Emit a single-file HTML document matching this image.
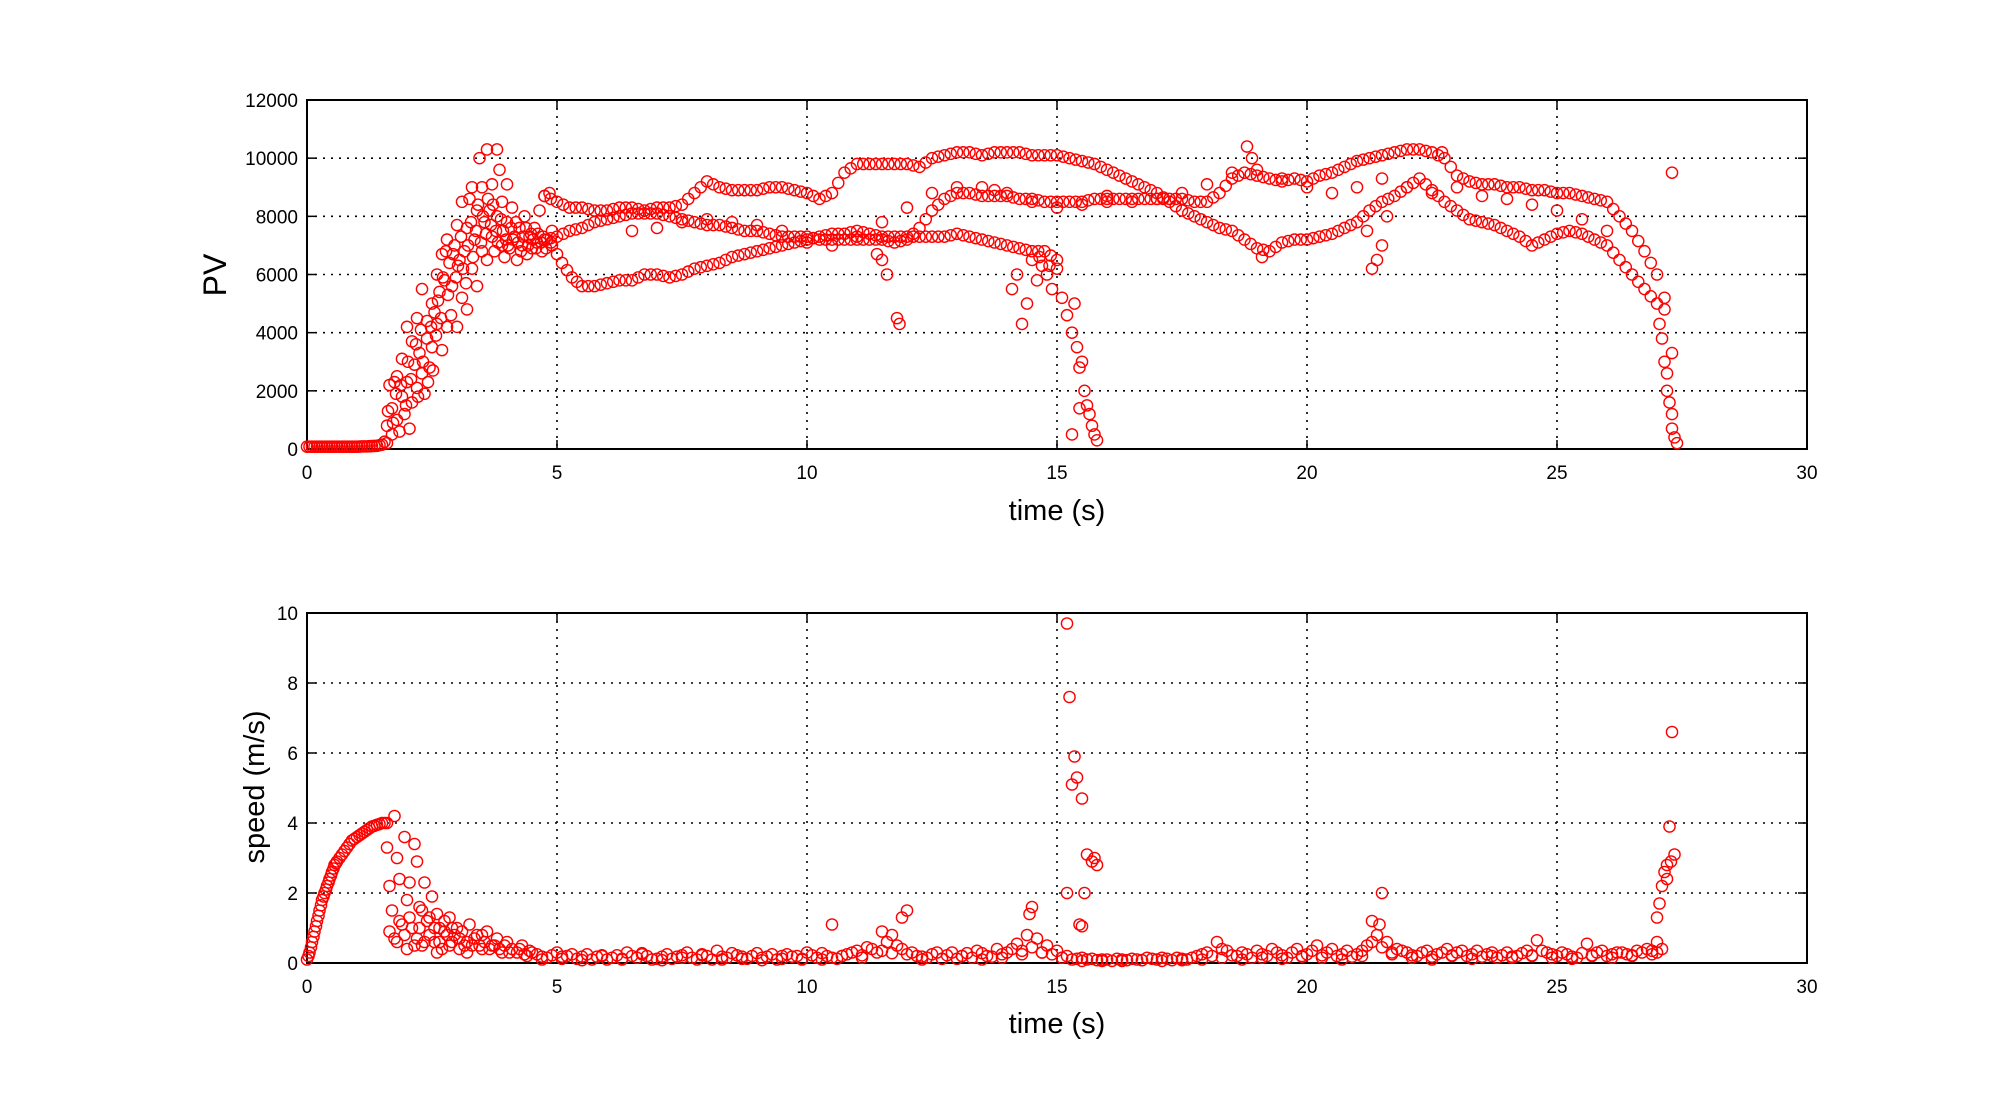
<!DOCTYPE html>
<html><head><meta charset="utf-8"><style>
html,body{margin:0;padding:0;background:#fff;}
svg{display:block;font-family:"Liberation Sans",sans-serif;}
</style></head><body>
<svg id="fig" width="1998" height="1117" viewBox="0 0 1998 1117">
<rect width="1998" height="1117" fill="#fff"/>
<g id="top"></g>
<g id="bot"></g>
<text x="1057" y="520" font-size="29" text-anchor="middle">time (s)</text>
<text x="1057" y="1033" font-size="29" text-anchor="middle">time (s)</text>
<text transform="translate(226,275) rotate(-90)" font-size="32" text-anchor="middle">PV</text>
<text transform="translate(264,787) rotate(-90)" font-size="29" text-anchor="middle">speed (m/s)</text>
</svg>
<script>
const xTicks=[0,5,10,15,20,25,30];
const pvTicks=[0,2000,4000,6000,8000,10000,12000];
const spTicks=[0,2,4,6,8,10];
const pvFlat=[[0,80],[0.05,80],[0.1,80],[0.15,80],[0.2,80],[0.25,80],[0.3,80],[0.35,80],[0.4,80],[0.45,80],[0.5,80],[0.55,80],[0.6,80],[0.65,80],[0.7,80],[0.75,80],[0.8,80],[0.85,80],[0.9,80],[0.95,80],[1.0,80],[1.05,85],[1.1,90],[1.15,90],[1.2,90],[1.25,95],[1.3,100],[1.35,105],[1.4,110],[1.45,130],[1.5,150],[1.55,250]];
const pvRise=[[1.6,200],[1.6,800],[1.65,2200],[1.7,1400],[1.7,500],[1.75,2300],[1.8,1000],[1.8,2500],[1.85,600],[1.9,1800],[1.9,3100],[1.95,1200],[2.0,2300],[2.0,4200],[2.05,700],[2.1,3700],[2.1,1600],[2.15,2900],[2.2,4500],[2.2,2100],[2.25,3300],[2.3,5500],[2.3,2600],[2.35,1900],[2.4,3800],[2.4,4400],[2.45,2800],[2.5,5000],[2.5,3500],[2.55,4700],[2.6,6000],[2.6,4300],[2.65,5400],[2.7,3400],[2.7,6700],[2.75,5800],[2.8,7200],[2.8,4200],[2.85,6400],[2.9,5600],[2.95,7000],[3.0,4200],[3.0,7700],[3.05,6500],[3.1,8500],[3.1,5200],[3.15,6800],[3.2,7600],[3.2,4800],[3.25,8600],[3.3,6200],[3.3,9000],[3.35,7200],[3.4,5600],[3.4,8200],[3.45,10000],[3.5,6800],[3.5,9000],[3.55,7800],[3.6,10300],[3.6,6500],[3.65,8200],[3.7,9100],[3.7,7300],[3.75,6800],[3.8,10300],[3.8,8000],[3.85,9600],[3.9,7000],[3.9,8500],[3.95,6600],[4.0,7800],[4.0,9100],[4.05,6900],[4.1,8300],[4.15,7300],[4.2,6500],[4.25,7600],[4.3,7000],[4.35,8000],[4.4,6700],[4.45,7300],[4.5,6900],[4.55,7600],[4.6,7100],[4.65,8200],[4.7,6800],[4.75,8700],[4.8,7200],[4.85,8800],[4.9,7500]];
const pvRise2=[[1.62,1300],[1.72,900],[1.78,1900],[1.88,2200],[1.98,1500],[2.02,3000],[2.08,2400],[2.18,3600],[2.22,1800],[2.28,4100],[2.32,3000],[2.42,2300],[2.48,4200],[2.52,2700],[2.58,3900],[2.62,5100],[2.68,4500],[2.72,5900],[2.78,6800],[2.82,5300],[2.88,4600],[2.92,6700],[2.98,5900],[3.02,6300],[3.08,7300],[3.12,6200],[3.18,5700],[3.22,7000],[3.28,7800],[3.32,6600],[3.38,7500],[3.42,8400],[3.48,7100],[3.52,8000],[3.58,7400],[3.62,8600],[3.68,7700],[3.72,8400],[3.78,7500],[3.82,7100],[3.88,7900],[3.92,7500],[3.98,7200],[4.02,7000],[4.08,7600],[4.12,7200],[4.18,7800],[4.22,7100],[4.28,6800],[4.32,7300],[4.38,7600],[4.42,7000],[4.48,7400],[4.52,7200],[4.58,6900],[4.62,7400],[4.68,7100],[4.72,7300],[4.78,6900],[4.88,7100]];
const pvTrackA=[[4.9,7000],[5.1,6400],[5.3,5900],[5.5,5600],[5.75,5600],[6,5700],[6.25,5800],[6.5,5800],[6.75,6000],[7,6000],[7.25,5900],[7.5,6000],[7.75,6200],[8,6300],[8.25,6400],[8.5,6600],[8.75,6700],[9,6800],[9.25,6900],[9.5,7000],[9.75,7100],[10,7200],[10.25,7300],[10.5,7400],[10.75,7400],[11,7500],[11.25,7400],[11.5,7300],[11.75,7300],[12,7300],[12.25,7300],[12.5,7300],[12.75,7300],[13,7400],[13.25,7300],[13.5,7200],[13.75,7100],[14,7000],[14.25,6900],[14.5,6800],[14.75,6800],[15,6500]];
const pvTrackA2=[[5.0,6700],[5.2,6150],[5.4,5750],[5.625,5600],[5.875,5650],[6.125,5750],[6.375,5800],[6.625,5900],[6.875,6000],[7.125,5950],[7.375,5950],[7.625,6100],[7.875,6250],[8.125,6350],[8.375,6500],[8.625,6650],[8.875,6750],[9.125,6850],[9.375,6950],[9.625,7050],[9.875,7150],[10.125,7250],[10.375,7350],[10.625,7400],[10.875,7450],[11.125,7450],[11.375,7350],[11.625,7300],[11.875,7300],[12.125,7300],[12.375,7300],[12.625,7300],[12.875,7350],[13.125,7350],[13.375,7250],[13.625,7150],[13.875,7050],[14.125,6950],[14.375,6850],[14.625,6800],[14.875,6650]];
const pvDropA=[[14.6,5800],[14.7,6300],[14.8,6000],[14.9,5500],[15.0,6200],[15.1,5200],[15.2,4600],[15.3,4000],[15.35,5000],[15.4,3500],[15.45,2800],[15.5,3000],[15.55,2000],[15.6,1500],[15.65,1200],[15.7,800],[15.75,500],[15.8,300],[15.3,500],[15.45,1400],[14.1,5500],[14.3,4300],[14.4,5000],[14.2,6000],[14.5,6500],[14.65,6600],[14.85,6300]];
const pvTrackB=[[4.75,8700],[5,8500],[5.25,8300],[5.5,8300],[5.75,8200],[6,8200],[6.25,8300],[6.5,8300],[6.75,8200],[7,8300],[7.25,8300],[7.5,8400],[7.75,8800],[8,9200],[8.25,9000],[8.5,8900],[8.75,8900],[9,8900],[9.25,9000],[9.5,9000],[9.75,8900],[10,8800],[10.25,8600],[10.5,8800],[10.75,9500],[11,9800],[11.25,9800],[11.5,9800],[11.75,9800],[12,9800],[12.25,9700],[12.5,10000],[12.75,10100],[13,10200],[13.25,10200],[13.5,10100],[13.75,10200],[14,10200],[14.25,10200],[14.5,10100],[14.75,10100],[15,10100],[15.25,10000],[15.5,9900],[15.75,9800],[16,9600],[16.25,9400],[16.5,9200],[16.75,9000],[17,8800],[17.25,8500],[17.5,8200],[17.75,8000],[18,7800],[18.25,7600],[18.5,7500],[18.75,7200],[19,6900],[19.25,6800],[19.5,7100],[19.75,7200],[20,7200],[20.25,7300],[20.5,7400],[20.75,7600],[21,7800],[21.25,8200],[21.5,8500],[21.75,8700],[22,9000],[22.25,9300],[22.5,8900],[22.75,8500],[23,8200],[23.25,7900],[23.5,7800],[23.75,7700],[24,7500],[24.25,7300],[24.5,7000],[24.75,7200],[25,7400],[25.25,7500],[25.5,7400],[25.75,7200],[26,7000],[26.25,6500],[26.5,6000],[26.75,5500],[27,5000],[27.15,4800]];
const pvTrackB2=[[4.875,8600],[5.125,8400],[5.375,8300],[5.625,8250],[5.875,8200],[6.125,8250],[6.375,8300],[6.625,8250],[6.875,8250],[7.125,8300],[7.375,8350],[7.625,8600],[7.875,9000],[8.125,9100],[8.375,8950],[8.625,8900],[8.875,8900],[9.125,8950],[9.375,9000],[9.625,8950],[9.875,8850],[10.125,8700],[10.375,8700],[10.625,9150],[10.875,9650],[11.125,9800],[11.375,9800],[11.625,9800],[11.875,9800],[12.125,9750],[12.375,9850],[12.625,10050],[12.875,10150],[13.125,10200],[13.375,10150],[13.625,10150],[13.875,10200],[14.125,10200],[14.375,10150],[14.625,10100],[14.875,10100],[15.125,10050],[15.375,9950],[15.625,9850],[15.875,9700],[16.125,9500],[16.375,9300],[16.625,9100],[16.875,8900],[17.125,8650],[17.375,8350],[17.625,8100],[17.875,7900],[18.125,7700],[18.375,7550],[18.625,7350],[18.875,7050],[19.125,6850],[19.375,6950],[19.625,7150],[19.875,7200],[20.125,7250],[20.375,7350],[20.625,7500],[20.875,7700],[21.125,8000],[21.375,8350],[21.625,8600],[21.875,8850],[22.125,9150],[22.375,9100],[22.625,8700],[22.875,8350],[23.125,8050],[23.375,7850],[23.625,7750],[23.875,7600],[24.125,7400],[24.375,7150],[24.625,7100],[24.875,7300],[25.125,7450],[25.375,7450],[25.625,7300],[25.875,7100],[26.125,6750],[26.375,6250],[26.625,5750],[26.875,5250]];
const pvTrackC=[[4.75,7200],[5,7300],[5.25,7500],[5.5,7600],[5.75,7800],[6,7900],[6.25,8000],[6.5,8100],[6.75,8100],[7,8100],[7.25,8000],[7.5,7900],[7.75,7800],[8,7700],[8.25,7700],[8.5,7600],[8.75,7500],[9,7500],[9.25,7400],[9.5,7300],[9.75,7300],[10,7300],[10.25,7200],[10.5,7200],[10.75,7200],[11,7200],[11.25,7200],[11.5,7200],[11.75,7100],[12,7200],[12.25,7600],[12.5,8200],[12.75,8600],[13,8800],[13.25,8800],[13.5,8700],[13.75,8700],[14,8700],[14.25,8600],[14.5,8600],[14.75,8500],[15,8500],[15.25,8500],[15.5,8500],[15.75,8600],[16,8600],[16.25,8600],[16.5,8600],[16.75,8600],[17,8600],[17.25,8600],[17.5,8600],[17.75,8500],[18,8500],[18.25,8800],[18.5,9300],[18.75,9500],[19,9400],[19.25,9300],[19.5,9200],[19.75,9300],[20,9200],[20.25,9400],[20.5,9500],[20.75,9700],[21,9900],[21.25,10000],[21.5,10100],[21.75,10200],[22,10300],[22.25,10300],[22.5,10200],[22.75,10000],[23,9400],[23.25,9200],[23.5,9100],[23.75,9100],[24,9000],[24.25,9000],[24.5,8900],[24.75,8900],[25,8800],[25.25,8800],[25.5,8700],[25.75,8600],[26,8500],[26.25,8000],[26.5,7500],[26.75,6800],[27,6000],[27.15,5200]];
const pvTrackC2=[[4.875,7250],[5.125,7400],[5.375,7550],[5.625,7700],[5.875,7850],[6.125,7950],[6.375,8050],[6.625,8100],[6.875,8100],[7.125,8050],[7.375,7950],[7.625,7850],[7.875,7750],[8.125,7700],[8.375,7650],[8.625,7550],[8.875,7500],[9.125,7450],[9.375,7350],[9.625,7300],[9.875,7300],[10.125,7250],[10.375,7200],[10.625,7200],[10.875,7200],[11.125,7200],[11.375,7200],[11.625,7150],[11.875,7150],[12.125,7400],[12.375,7900],[12.625,8400],[12.875,8700],[13.125,8800],[13.375,8750],[13.625,8700],[13.875,8700],[14.125,8650],[14.375,8600],[14.625,8550],[14.875,8500],[15.125,8500],[15.375,8500],[15.625,8550],[15.875,8600],[16.125,8600],[16.375,8600],[16.625,8600],[16.875,8600],[17.125,8600],[17.375,8600],[17.625,8550],[17.875,8500],[18.125,8650],[18.375,9050],[18.625,9400],[18.875,9450],[19.125,9350],[19.375,9250],[19.625,9250],[19.875,9250],[20.125,9300],[20.375,9450],[20.625,9600],[20.875,9800],[21.125,9950],[21.375,10050],[21.625,10150],[21.875,10250],[22.125,10300],[22.375,10250],[22.625,10100],[22.875,9700],[23.125,9300],[23.375,9150],[23.625,9100],[23.875,9050],[24.125,9000],[24.375,8950],[24.625,8900],[24.875,8850],[25.125,8800],[25.375,8750],[25.625,8650],[25.875,8550],[26.125,8250],[26.375,7750],[26.625,7150],[26.875,6400]];
const pvTrackD=[[6.5,7500],[7,7600],[7.5,7800],[8,7900],[8.5,7800],[9,7700],[9.5,7500],[10,7100],[10.5,7000],[11,7300],[11.5,7800],[12,8300],[12.5,8800],[13,9000],[13.5,9000],[13.75,8900],[14,8800],[14.5,8500],[15,8300],[15.5,8400],[16,8500],[16.5,8500],[17,8600],[17.5,8800],[18,9100],[18.5,9500],[19,9600],[19.5,9300],[20,9000],[20.5,8800],[21,9000],[21.5,9300],[22,9000],[22.5,8800],[23,9000],[23.5,8700],[24,8600],[24.5,8400],[25,8200],[25.5,7900],[26,7500]];
const pvEnd=[[27.05,4300],[27.1,3800],[27.15,3000],[27.2,2600],[27.2,2000],[27.25,1600],[27.3,1200],[27.3,700],[27.35,400],[27.4,200],[27.3,3300],[27.3,9500]];
const pvExtra=[[11.5,6500],[11.6,6000],[11.8,4500],[11.85,4300],[11.4,6700],[21.3,6200],[21.4,6500],[21.5,7000],[21.6,8000],[21.2,7500],[18.8,10400],[18.9,10000],[19.1,6600],[22.7,10200],[16,8700]];
const spAccel=[[0,0.1],[0.03,0.2],[0.05,0.3],[0.08,0.45],[0.1,0.6],[0.13,0.75],[0.15,0.9],[0.18,1.05],[0.2,1.2],[0.23,1.35],[0.25,1.5],[0.28,1.65],[0.3,1.8],[0.33,1.9],[0.35,2.0],[0.38,2.1],[0.4,2.2],[0.43,2.3],[0.45,2.4],[0.48,2.5],[0.5,2.6],[0.53,2.7],[0.55,2.8],[0.58,2.85],[0.6,2.9],[0.65,3.0],[0.7,3.1],[0.75,3.2],[0.8,3.3],[0.85,3.4],[0.9,3.5],[0.95,3.55],[1.0,3.6],[1.05,3.65],[1.1,3.7],[1.15,3.75],[1.2,3.8],[1.25,3.85],[1.3,3.9],[1.35,3.92],[1.4,3.95],[1.45,3.97],[1.5,4.0],[1.55,4.0],[1.6,4.0]];
const spDecay=[[1.6,3.3],[1.65,2.2],[1.65,0.9],[1.7,1.5],[1.75,4.2],[1.8,3.0],[1.8,0.6],[1.85,2.4],[1.9,1.1],[1.95,3.6],[2.0,1.8],[2.0,0.4],[2.05,2.3],[2.1,1.0],[2.15,3.4],[2.2,0.7],[2.2,2.9],[2.25,1.6],[2.3,0.5],[2.35,2.3],[2.4,1.2],[2.45,0.8],[2.5,1.9],[2.55,0.6],[2.6,1.4],[2.65,1.0],[2.7,0.4],[2.75,1.2],[2.8,0.8],[2.85,1.3],[2.9,0.6],[3.0,1.0],[3.05,0.4],[3.1,0.9],[3.2,0.6],[3.25,1.1],[3.3,0.5],[3.4,0.8],[3.5,0.4],[3.6,0.9],[3.7,0.5],[3.8,0.7],[3.9,0.3],[4.0,0.6],[4.1,0.4],[4.2,0.3],[4.3,0.5],[4.4,0.2],[4.5,0.3],[2.3,1.5],[2.6,0.3],[2.9,1.0],[3.2,0.3],[3.5,0.8],[1.75,0.7],[1.85,1.2],[1.95,0.8],[2.05,1.3],[2.15,0.5],[2.25,1.0],[2.35,0.6],[2.45,1.3],[2.55,1.0],[2.65,0.6],[2.75,0.9],[2.85,0.5],[2.95,0.8],[3.05,0.7],[3.15,0.5],[3.35,0.7],[3.45,0.5],[3.55,0.6],[3.65,0.4],[3.75,0.5],[3.85,0.4],[3.95,0.5],[4.05,0.3],[4.25,0.4],[4.35,0.25],[4.45,0.35]];
const spBase=[[4.6,.25],[4.8,.15],[5.0,.3],[5.2,.2],[5.4,.12],[5.6,.25],[5.8,.18],[6.0,.1],[6.2,.22],[6.4,.3],[6.6,.15],[6.8,.2],[7.0,.12],[7.2,.25],[7.4,.18],[7.6,.3],[7.8,.1],[8.0,.2],[8.2,.35],[8.4,.15],[8.6,.22],[8.8,.12],[9.0,.28],[9.2,.18],[9.4,.1],[9.6,.25],[9.8,.2],[10.0,.3],[10.2,.15],[10.4,.2],[10.6,.12],[10.8,.25],[11.0,.35],[11.2,.45],[11.4,.3],[11.6,.6],[11.8,.5],[12.0,.25],[12.2,.2],[12.4,.15],[12.6,.3],[12.8,.22],[13.0,.12],[13.2,.28],[13.4,.35],[13.6,.2],[13.8,.4],[14.0,.3],[14.2,.55],[14.4,.8],[14.6,.7],[14.8,.5],[15.0,.35],[15.2,.2],[15.4,.12],[15.6,.1],[15.8,.08],[16.0,.1],[16.2,.12],[16.4,.08],[16.6,.1],[16.8,.15],[17.0,.1],[17.2,.12],[17.4,.15],[17.6,.1],[17.8,.2],[18.0,.3],[18.2,.6],[18.4,.35],[18.6,.2],[18.8,.25],[19.0,.35],[19.2,.2],[19.4,.3],[19.6,.15],[19.8,.4],[20.0,.25],[20.2,.5],[20.4,.3],[20.6,.2],[20.8,.35],[21.0,.25],[21.2,.5],[21.4,.8],[21.6,.6],[21.8,.4],[22.0,.3],[22.2,.2],[22.4,.35],[22.6,.25],[22.8,.4],[23.0,.3],[23.2,.2],[23.4,.35],[23.6,.25],[23.8,.15],[24.0,.3],[24.2,.2],[24.4,.35],[24.6,.65],[24.8,.3],[25.0,.2],[25.2,.25],[25.4,.15],[25.6,.55],[25.8,.3],[26.0,.2],[26.2,.3],[26.4,.25],[26.6,.35],[26.8,.4],[27.0,.3]];
const spBase2=[[4.7,.1],[5.1,.18],[5.5,.08],[5.9,.2],[6.3,.1],[6.7,.25],[7.1,.08],[7.5,.15],[7.9,.22],[8.3,.1],[8.7,.18],[9.1,.08],[9.5,.2],[9.9,.12],[10.3,.1],[10.5,1.1],[10.7,.2],[11.1,.15],[11.5,.9],[11.7,.8],[11.9,1.3],[12.0,1.5],[12.3,.1],[12.7,.12],[13.1,.2],[13.5,.1],[13.9,.15],[14.3,.25],[14.5,1.6],[14.45,1.4],[14.7,.3],[15.1,.15],[15.5,.06],[15.9,.06],[16.3,.06],[16.7,.08],[17.1,.06],[17.5,.08],[17.9,.1],[18.3,.15],[18.7,.1],[19.1,.15],[19.5,.12],[19.9,.2],[20.3,.15],[20.7,.1],[21.1,.2],[21.3,1.2],[21.45,1.1],[21.7,.3],[22.1,.15],[22.5,.1],[22.9,.2],[23.3,.12],[23.7,.2],[24.1,.15],[24.5,.2],[24.9,.15],[25.3,.12],[25.7,.2],[26.1,.15],[26.5,.2],[26.9,.25]];
const spBase3=[[4.7,.18],[4.9,.22],[5.1,.12],[5.3,.25],[5.5,.18],[5.7,.1],[5.9,.22],[6.1,.15],[6.3,.12],[6.5,.2],[6.7,.28],[6.9,.1],[7.1,.18],[7.3,.12],[7.5,.22],[7.7,.15],[7.9,.25],[8.1,.1],[8.3,.18],[8.5,.28],[8.7,.12],[8.9,.2],[9.1,.15],[9.3,.25],[9.5,.12],[9.7,.18],[9.9,.1],[10.1,.22],[10.3,.28],[10.5,.15],[10.7,.2],[10.9,.3],[11.1,.22],[11.3,.4],[11.5,.35],[11.7,.28],[11.9,.4],[12.1,.3],[12.3,.18],[12.5,.25],[12.7,.12],[12.9,.3],[13.1,.2],[13.3,.15],[13.5,.28],[13.7,.18],[13.9,.25],[14.1,.4],[14.3,.35],[14.5,.45],[14.7,.3],[14.9,.25],[15.1,.15],[15.3,.1],[15.5,.15],[15.7,.12],[15.9,.1],[16.1,.06],[16.3,.1],[16.5,.12],[16.7,.08],[16.9,.12],[17.1,.15],[17.3,.08],[17.5,.12],[17.7,.15],[17.9,.25],[18.1,.2],[18.3,.4],[18.5,.22],[18.7,.3],[18.9,.15],[19.1,.25],[19.3,.4],[19.5,.22],[19.7,.3],[19.9,.18],[20.1,.35],[20.3,.22],[20.5,.4],[20.7,.25],[20.9,.18],[21.1,.35],[21.3,.6],[21.5,.45],[21.7,.25],[21.9,.35],[22.1,.22],[22.3,.3],[22.5,.18],[22.7,.3],[22.9,.22],[23.1,.35],[23.3,.25],[23.5,.18],[23.7,.3],[23.9,.22],[24.1,.18],[24.3,.28],[24.5,.22],[24.7,.35],[24.9,.25],[25.1,.3],[25.3,.18],[25.5,.28],[25.7,.22],[25.9,.35],[26.1,.25],[26.3,.3],[26.5,.22],[26.7,.3],[26.9,.35]];
const spSpikes=[[15.2,9.7],[15.25,7.6],[15.35,5.9],[15.4,5.3],[15.3,5.1],[15.5,4.7],[15.6,3.1],[15.7,2.9],[15.8,2.8],[15.75,3.0],[15.2,2.0],[15.55,2.0],[15.45,1.1],[15.5,1.05],[21.5,2.0],[27.0,1.3],[27.05,1.7],[27.1,2.2],[27.15,2.6],[27.2,2.8],[27.25,3.9],[27.3,6.6],[27.35,3.1],[27.28,2.9],[27.2,2.4],[27.0,0.6],[27.1,0.4]];

const NS="http://www.w3.org/2000/svg";
const X0=307,X1=1807;
function xs(t){return X0+(t/30)*(X1-X0);}
function mk(tag,attrs,parent){const e=document.createElementNS(NS,tag);for(const k in attrs)e.setAttribute(k,attrs[k]);parent.appendChild(e);return e;}

function drawAxes(g,Y0,Y1,ticks,ymax,prefix){
  const ys=v=>Y1-(v/ymax)*(Y1-Y0);
  ticks.forEach(v=>{
    const y=ys(v);
    if(v>0&&v<ymax){
      const gl=mk('line',{x1:X0,x2:X1,y1:y,y2:y,stroke:'#000','stroke-width':1.6,'stroke-dasharray':'2,6'},g);
      
      
    }
    mk('line',{x1:X0,x2:X0+9,y1:y,y2:y,stroke:'#000','stroke-width':1.5},g);
    mk('line',{x1:X1-9,x2:X1,y1:y,y2:y,stroke:'#000','stroke-width':1.5},g);
    const t=mk('text',{x:X0-9,y:y+7,'font-size':19,'text-anchor':'end'},g);
    t.textContent=String(v);
    
    
  });
  xTicks.forEach(v=>{
    const x=xs(v);
    if(v>0&&v<30){
      const gl=mk('line',{x1:x,x2:x,y1:Y0,y2:Y1,stroke:'#000','stroke-width':1.6,'stroke-dasharray':'2,6'},g);
      
      
    }
    mk('line',{x1:x,x2:x,y1:Y1,y2:Y1-9,stroke:'#000','stroke-width':1.5},g);
    mk('line',{x1:x,x2:x,y1:Y0,y2:Y0+9,stroke:'#000','stroke-width':1.5},g);
    const t=mk('text',{x:x,y:Y1+30,'font-size':19,'text-anchor':'middle'},g);
    t.textContent=String(v);
    
    
  });
  const fr=mk('rect',{x:X0,y:Y0,width:X1-X0,height:Y1-Y0,fill:'none',stroke:'#000','stroke-width':2},g);
  
  
  return ys;
}
function drawPts(g,data,ys,name){
  data.forEach(p=>{
    const c=mk('circle',{cx:xs(p[0]),cy:ys(p[1]),r:5.6,fill:'none',stroke:'#ff0000','stroke-width':1.4},g);
    
    
  });
}
const gt=document.getElementById('top'), gb=document.getElementById('bot');
const ysT=drawAxes(gt,100,449,pvTicks,12000,'pv');
[pvFlat,pvRise,pvRise2,pvTrackA,pvTrackA2,pvDropA,pvTrackB,pvTrackB2,pvTrackC,pvTrackC2,pvTrackD,pvEnd,pvExtra].forEach(d=>drawPts(gt,d,ysT,'pv-point'));
const ysB=drawAxes(gb,613,963,spTicks,10,'speed');
[spAccel,spDecay,spBase,spBase2,spBase3,spSpikes].forEach(d=>drawPts(gb,d,ysB,'speed-point'));
</script>
</body></html>
